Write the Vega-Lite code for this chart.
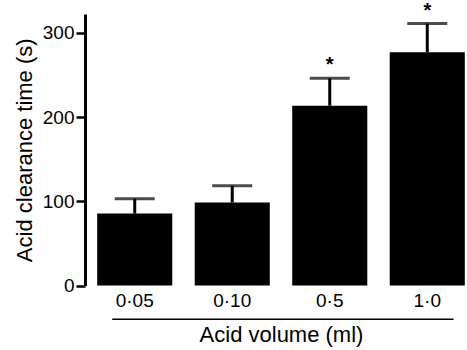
{
  "$schema": "https://vega.github.io/schema/vega-lite/v6.json",
  "autosize": {"type": "none"},
  "padding": {"left": 85, "top": 14, "right": 0, "bottom": 65},
  "width": 392,
  "height": 271.5,
  "background": "white",
  "config": {
    "view": {"stroke": null},
    "font": "Liberation Sans",
    "axisY": {
      "titleFontSize": 22, "titleFontWeight": "normal", "titleColor": "black", "titlePadding": 6,
      "labelFontSize": 19, "labelColor": "black", "labelPadding": 2,
      "tickSize": 9, "tickWidth": 2.5, "tickColor": "black",
      "domainColor": "black", "domainWidth": 3, "grid": false
    }
  },
  "data": {"values": [
    {"volume": "0·05", "mean": 85.5, "upper": 103, "sig": ""},
    {"volume": "0·10", "mean": 98.5, "upper": 118.5, "sig": ""},
    {"volume": "0·5", "mean": 213.5, "upper": 246, "sig": "*"},
    {"volume": "1·0", "mean": 277, "upper": 311, "sig": "*"}
  ]},
  "encoding": {
    "x": {
      "field": "volume", "type": "nominal", "sort": null,
      "scale": {"domain": ["0·05", "0·10", "0·5", "1·0"], "paddingInner": 0.23, "paddingOuter": 0.125},
      "axis": {
        "title": "Acid volume (ml)", "titleFontSize": 22, "titleFontWeight": "normal", "titleColor": "black", "titlePadding": 14,
        "labelAngle": 0, "labelFontSize": 19, "labelColor": "black", "labelPadding": 6,
        "ticks": false, "domain": false, "grid": false
      }
    }
  },
  "layer": [
    {
      "mark": {"type": "bar", "color": "black"},
      "encoding": {
        "y": {
          "field": "mean", "type": "quantitative", "title": "Acid clearance time (s)",
          "scale": {"domain": [0, 322.4], "nice": false},
          "axis": {"values": [0, 100, 200, 300]}
        }
      }
    },
    {
      "mark": {"type": "rule", "color": "black", "strokeWidth": 3},
      "encoding": {
        "y": {"field": "mean", "type": "quantitative", "title": "Acid clearance time (s)"},
        "y2": {"field": "upper"}
      }
    },
    {
      "mark": {"type": "tick", "color": "black", "size": 40, "thickness": 3},
      "encoding": {
        "y": {"field": "upper", "type": "quantitative", "title": "Acid clearance time (s)"}
      }
    },
    {
      "mark": {"type": "text", "color": "black", "fontSize": 20, "fontWeight": "bold", "baseline": "top", "dy": -23},
      "encoding": {
        "y": {"field": "upper", "type": "quantitative", "title": "Acid clearance time (s)"},
        "text": {"field": "sig"}
      }
    },
    {
      "data": {"values": [{}]},
      "mark": {"type": "rule", "color": "black", "strokeWidth": 1.5},
      "encoding": {
        "x": {"datum": "0·05", "bandPosition": 0.2},
        "x2": {"datum": "1·0", "bandPosition": 0.85},
        "y": {"datum": -40, "type": "quantitative", "title": "Acid clearance time (s)"}
      }
    }
  ]
}
